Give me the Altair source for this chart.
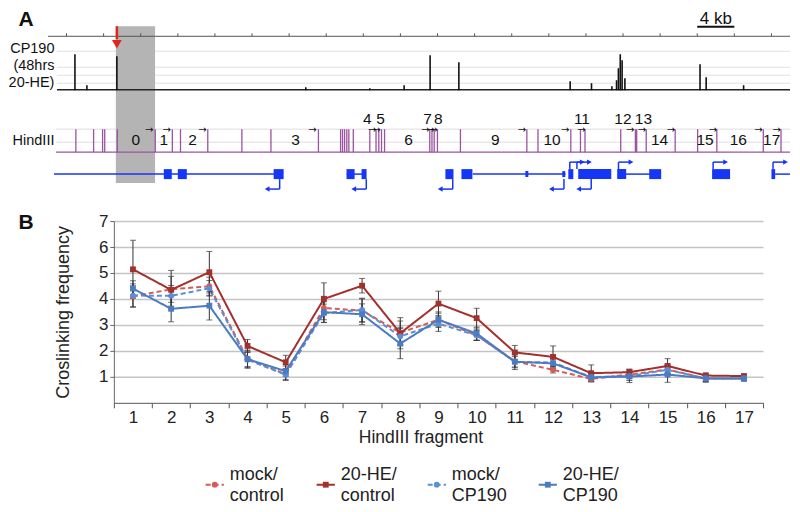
import altair as alt
import pandas as pd

FONT = "Liberation Sans"

# ---------------- Panel A data (genomic positions in kb) ----------------
ruler_ticks_kb = [2, 6, 10, 14, 18, 22, 26, 30, 34, 38, 42, 46, 50, 54, 58, 62, 66, 70, 74, 78]
ruler_span_kb = [0, 80]
scale_bar_kb = [70, 74]
scale_bar_label = ["4 kb"]
shade_kb = [7.32, 11.55]
red_arrow_kb = [7.43]

peak_kb = [2.91, 4.2, 7.43, 27.8, 34.7, 38.4, 41.2, 44.3, 56.3, 58.6, 60.8, 61.3, 61.5, 61.7, 61.9, 62.2, 70.3, 70.96, 75.0]
peak_signal = [36, 5, 34, 3, 2, 5, 35, 28, 9, 7, 4, 10, 22, 36, 30, 12, 26, 13, 5]
track_guides = [7, 15, 23, 39]

cut_kb = [3.01, 4.92, 5.89, 6.12, 7.48, 11.57, 13.41, 14.29, 17.23, 20.91, 24.04, 29.16,
          31.55, 31.76, 31.98, 32.22, 32.44, 32.92, 34.70, 35.37, 35.67, 35.96, 36.29,
          41.16, 41.40, 41.64, 41.99, 44.47, 51.63, 52.83, 56.37, 57.41, 57.90, 61.75,
          63.33, 63.47, 64.50, 67.62, 70.04, 72.11, 77.12, 79.03]
frag_label = ["0", "1", "2", "3", "4", "5", "6", "7", "8", "9", "10", "11", "12", "13", "14", "15", "16", "17"]
frag_label_kb = [9.48, 12.49, 15.58, 26.70, 34.42, 35.85, 38.87, 40.92, 42.07, 48.24, 54.34,
                 57.57, 61.99, 64.20, 65.93, 70.85, 74.43, 78.03]
frag_label_row = ["low", "low", "low", "low", "high", "high", "low", "high", "high", "low", "low",
                  "high", "high", "high", "low", "low", "low", "low"]
primer_kb = [10.91, 12.81, 16.66, 28.50, 34.96, 35.42, 40.70, 41.24, 41.56, 51.11, 55.77,
             57.50, 62.78, 64.03, 67.15, 71.68, 76.59, 78.57]

intron_start = [0.65, 32.2, 45.8, 62.3, 78.4]
intron_end = [25.2, 34.3, 55.8, 64.9, 80.0]
exon_start = [12.49, 14.0, 24.33, 32.19, 33.81, 42.85, 44.58, 56.1, 57.17, 61.37, 64.82, 71.6, 78.0]
exon_end = [13.35, 14.97, 25.41, 33.06, 34.35, 43.72, 45.76, 56.64, 60.73, 62.34, 66.11, 73.54, 78.4]
small_exon_start = [51.47, 55.45]
small_exon_end = [51.79, 55.77]
tss_fwd_kb = [56.26, 57.03, 61.51, 71.71, 78.17]
tss_rev_kb = [24.98, 34.32, 43.64, 55.63, 58.57]

# ---------------- Panel B data ----------------
fragments = [1, 2, 3, 4, 5, 6, 7, 8, 9, 10, 11, 12, 13, 14, 15, 16, 17]
series = ["mock/control", "20-HE/control", "mock/CP190", "20-HE/CP190"]
legend_text = ["mock/\ncontrol", "20-HE/\ncontrol", "mock/\nCP190", "20-HE/\nCP190"]
y_ticks = [1, 2, 3, 4, 5, 6, 7]
mock_control = [4.10, 4.37, 4.49, 1.70, 1.10, 3.65, 3.55, 2.70, 3.20, 2.60, 1.60, 1.27, 0.92, 1.09, 1.28, 0.94, 0.94]
he_control = [5.14, 4.35, 5.03, 2.19, 1.56, 4.00, 4.51, 2.68, 3.82, 3.26, 1.94, 1.77, 1.14, 1.18, 1.42, 1.05, 1.03]
mock_cp190 = [4.13, 4.12, 4.41, 1.66, 1.08, 3.45, 3.58, 2.56, 3.05, 2.60, 1.58, 1.55, 0.99, 1.03, 1.27, 0.94, 0.94]
he_cp190 = [4.40, 3.62, 3.74, 1.68, 1.22, 3.49, 3.41, 2.28, 3.20, 2.67, 1.58, 1.52, 0.98, 1.01, 1.09, 0.94, 0.94]
mock_control_err = [0.40, 0.50, 0.35, 0.30, 0.20, 0.45, 0.45, 0.45, 0.25, 0.20, 0.25, 0.12, 0.12, 0.15, 0.15, 0.12, 0.08]
he_control_err = [1.12, 0.75, 0.80, 0.25, 0.27, 0.62, 0.28, 0.60, 0.48, 0.38, 0.27, 0.42, 0.32, 0.12, 0.28, 0.10, 0.08]
mock_cp190_err = [0.45, 0.40, 0.30, 0.30, 0.22, 0.35, 0.45, 0.35, 0.30, 0.20, 0.20, 0.15, 0.12, 0.25, 0.20, 0.12, 0.10]
he_cp190_err = [0.30, 0.50, 0.55, 0.35, 0.20, 0.40, 0.40, 0.58, 0.30, 0.25, 0.30, 0.20, 0.15, 0.15, 0.30, 0.15, 0.10]

colors = ["#d65a56", "#a2302d", "#5b8ed6", "#4a7cc4"]
dashes = [[5, 3], [1, 0], [5, 3], [1, 0]]
shapes = ["circle", "square", "circle", "square"]

PURPLE = "#9c52a0"
BLUE = "#1636f5"
one = pd.DataFrame({"a": [0]})

# ======================= Panel A =======================
# panel A's plot origin is aligned with panel B's; the genome track extends to its left
xs = alt.Scale(domain=[0, 80], range=[-66, 677], nice=False, zero=False)
sig = alt.Scale(domain=[0, 40], range=[59, 19], nice=False, zero=False)


def X(field):
    return alt.X(f"{field}:Q", scale=xs, axis=None, title=None)


shade = alt.Chart(pd.DataFrame({"s": [shade_kb[0]], "e": [shade_kb[1]]})).mark_rect(color="#b4b4b4").encode(
    x=X("s"), x2=alt.X2("e"), y=alt.value(-5), y2=alt.value(152))

ruler_line = alt.Chart(pd.DataFrame({"s": [ruler_span_kb[0]], "e": [ruler_span_kb[1]]})).mark_rule(
    color="#555", strokeWidth=1).encode(x=X("s"), x2=alt.X2("e"), y=alt.value(5))
ruler_ticks = alt.Chart(pd.DataFrame({"kb": ruler_ticks_kb})).mark_rule(color="#555", strokeWidth=1).encode(
    x=X("kb"), y=alt.value(2), y2=alt.value(5))

guides = alt.Chart(pd.DataFrame({"level": track_guides})).mark_rule(color="#e0e0e0", strokeWidth=1).encode(
    x=alt.value(-57), x2=alt.value(677), y=alt.Y("level:Q", scale=sig, axis=None))

baseline = alt.Chart(one).mark_rule(color="#222", strokeWidth=1.4).encode(
    x=alt.value(-57), x2=alt.value(677), y=alt.value(58.5))

peaks = alt.Chart(pd.DataFrame({"kb": peak_kb, "signal": peak_signal})).mark_rule(
    color="#111", strokeWidth=1.6).encode(
    x=X("kb"), y=alt.Y("signal:Q", scale=sig, axis=None), y2=alt.datum(0))

red_df = pd.DataFrame({"kb": red_arrow_kb})
red_line = alt.Chart(red_df).mark_rule(color="#e3261b", strokeWidth=2.5).encode(
    x=X("kb"), y=alt.value(-5), y2=alt.value(8))
red_head = alt.Chart(red_df).mark_point(shape="triangle-down", filled=True, size=95, color="#e3261b",
                                        opacity=1).encode(x=X("kb"), y=alt.value(13))

bar = alt.Chart(pd.DataFrame({"s": [scale_bar_kb[0]], "e": [scale_bar_kb[1]]})).mark_rule(
    color="#111", strokeWidth=2).encode(x=X("s"), x2=alt.X2("e"), y=alt.value(-4.5))
bar_txt = alt.Chart(pd.DataFrame({"t": scale_bar_label, "m": [sum(scale_bar_kb) / 2]})).mark_text(
    fontSize=17, color="#111", baseline="middle").encode(x=X("m"), y=alt.value(-12.5), text="t:N")

a_letter = alt.Chart(pd.DataFrame({"t": ["A"]})).mark_text(
    fontSize=21, fontWeight="bold", color="#111", baseline="middle").encode(
    x=alt.value(-88), y=alt.value(-11), text="t:N")
cp_lab = alt.Chart(pd.DataFrame({"t": ["CP190\n(48hrs\n20-HE)"]})).mark_text(
    fontSize=14.5, align="right", baseline="middle", lineBreak="\n", lineHeight=17, color="#111").encode(
    x=alt.value(-59.5), y=alt.value(18), text="t:N")
hind_lab = alt.Chart(pd.DataFrame({"t": ["HindIII"]})).mark_text(
    fontSize=14.5, align="right", baseline="middle", color="#111").encode(
    x=alt.value(-59.5), y=alt.value(109.5), text="t:N")

hg1 = alt.Chart(one).mark_rule(color="#dddddd", strokeWidth=1).encode(x=alt.value(-58), x2=alt.value(677), y=alt.value(98))
hg2 = alt.Chart(one).mark_rule(color="#dddddd", strokeWidth=1).encode(x=alt.value(-58), x2=alt.value(677), y=alt.value(111))
hbase = alt.Chart(one).mark_rule(color=PURPLE, strokeWidth=1.4).encode(x=alt.value(-58), x2=alt.value(677), y=alt.value(121))
cuts = alt.Chart(pd.DataFrame({"kb": cut_kb})).mark_rule(color=PURPLE, strokeWidth=1.3).encode(
    x=X("kb"), y=alt.value(98), y2=alt.value(121))

fl_df = pd.DataFrame({"lab": frag_label, "kb": frag_label_kb, "row": frag_label_row})
fl_low = alt.Chart(fl_df).transform_filter("datum.row == 'low'").mark_text(
    fontSize=15.5, color="#111", baseline="middle").encode(x=X("kb"), y=alt.value(109), text="lab:N")
fl_high = alt.Chart(fl_df).transform_filter("datum.row == 'high'").mark_text(
    fontSize=15.5, color="#111", baseline="middle").encode(x=X("kb"), y=alt.value(87.5), text="lab:N")
primers = alt.Chart(pd.DataFrame({"kb": primer_kb, "t": ["→"] * len(primer_kb)})).mark_text(
    fontSize=10, color="#111", baseline="middle", font="DejaVu Sans").encode(
    x=X("kb"), y=alt.value(99), text="t:N")

introns = alt.Chart(pd.DataFrame({"s": intron_start, "e": intron_end})).mark_rule(
    color=BLUE, strokeWidth=1.5).encode(x=X("s"), x2=alt.X2("e"), y=alt.value(143))
exons = alt.Chart(pd.DataFrame({"s": exon_start, "e": exon_end})).mark_rect(color=BLUE).encode(
    x=X("s"), x2=alt.X2("e"), y=alt.value(138), y2=alt.value(148))
sexons = alt.Chart(pd.DataFrame({"s": small_exon_start, "e": small_exon_end})).mark_rect(color=BLUE).encode(
    x=X("s"), x2=alt.X2("e"), y=alt.value(140), y2=alt.value(146))

fwd = alt.Chart(pd.DataFrame({"kb": tss_fwd_kb})).transform_calculate(end="datum.kb + 1.35")
fwd_v = fwd.mark_rule(color=BLUE, strokeWidth=1.5).encode(x=X("kb"), y=alt.value(138), y2=alt.value(131))
fwd_h = fwd.mark_rule(color=BLUE, strokeWidth=1.5).encode(x=X("kb"), x2=alt.X2("end"), y=alt.value(131))
fwd_t = fwd.mark_point(shape="triangle-right", filled=True, size=30, color=BLUE, opacity=1).encode(
    x=X("end"), y=alt.value(131))
rev = alt.Chart(pd.DataFrame({"kb": tss_rev_kb})).transform_calculate(end="datum.kb - 1.35")
rev_v = rev.mark_rule(color=BLUE, strokeWidth=1.5).encode(x=X("kb"), y=alt.value(148), y2=alt.value(158))
rev_h = rev.mark_rule(color=BLUE, strokeWidth=1.5).encode(x=X("end"), x2=alt.X2("kb"), y=alt.value(158))
rev_t = rev.mark_point(shape="triangle-left", filled=True, size=30, color=BLUE, opacity=1).encode(
    x=X("end"), y=alt.value(158))

bound_a = alt.Chart(one).mark_rule(color="white", strokeWidth=1).encode(
    x=alt.value(-105), y=alt.value(-20), y2=alt.value(170))

panel_a = alt.layer(
    bound_a, guides, hg1, hg2, shade, ruler_line, ruler_ticks, baseline, peaks, red_line, red_head,
    bar, bar_txt, a_letter, cp_lab, hind_lab, hbase, cuts, fl_low, fl_high, primers, introns, exons,
    sexons, fwd_v, fwd_h, fwd_t, rev_v, rev_h, rev_t
).properties(width=677, height=170)

# ======================= Panel B =======================
rows = []
for s, vals, errs in zip(series, [mock_control, he_control, mock_cp190, he_cp190],
                         [mock_control_err, he_control_err, mock_cp190_err, he_cp190_err]):
    for f, v, e in zip(fragments, vals, errs):
        rows.append({"frag": f, "series": s, "value": v, "err": e})
df = pd.DataFrame(rows)

xaxis = alt.Axis(title="HindIII fragment", labelAngle=0, tickBand="extent", tickSize=5, labelFontSize=17,
                 labelColor="#222", labelPadding=2, titleFontSize=17.5, titleFontWeight="normal",
                 titleColor="#222", titleX=307, titlePadding=3, domainColor="#555", tickColor="#555",
                 grid=False, labelOverlap=False)
yaxis = alt.Axis(values=y_ticks, title="Croslinking frequency", titleFontSize=18,
                 titleFontWeight="normal", titleColor="#222", titlePadding=26, labelFontSize=17,
                 labelColor="#222", labelPadding=2, tickSize=4, tickColor="#666", domainColor="#666",
                 gridColor="#c4c4c4", gridWidth=1.5, labelOverlap=False, labelFlush=False,
                 labelBound=False, format="d")
ys = alt.Scale(domain=[0, 7], nice=False, zero=True)
xb = alt.X("frag:O", scale=alt.Scale(type="band", paddingInner=0, paddingOuter=0), axis=xaxis)


def Y(field):
    return alt.Y(f"{field}:Q", scale=ys, axis=yaxis)


color = alt.Color("series:N", scale=alt.Scale(domain=series, range=colors), legend=None)
dash = alt.StrokeDash("series:N", scale=alt.Scale(domain=series, range=dashes), legend=None)
shape = alt.Shape("series:N", scale=alt.Scale(domain=series, range=shapes), legend=None)

base = alt.Chart(df)
lines = base.mark_line(strokeWidth=2).encode(x=xb, y=Y("value"), color=color, strokeDash=dash,
                                             detail="series:N")
errs = base.transform_calculate(lo="datum.value - datum.err", hi="datum.value + datum.err")
err_rule = errs.mark_rule(color="#333", strokeWidth=1).encode(x=xb, y=Y("lo"), y2=alt.Y2("hi"))
cap_lo = errs.mark_tick(color="#333", thickness=1, size=6).encode(x=xb, y=Y("lo"))
cap_hi = errs.mark_tick(color="#333", thickness=1, size=6).encode(x=xb, y=Y("hi"))
pts = base.mark_point(filled=True, size=34, opacity=1).encode(x=xb, y=Y("value"), color=color, shape=shape)
main = alt.layer(lines, err_rule, cap_lo, cap_hi, pts)

leg_df = pd.DataFrame({"series": series, "label": legend_text, "idx": [0, 1, 2, 3]})
legx = alt.Scale(domain=[0, 3], range=[101, 434.5], nice=False, zero=False)
leg = alt.Chart(leg_df).transform_calculate(l="datum.idx - 0.082", r="datum.idx + 0.082")
leg_line = leg.mark_rule(strokeWidth=2).encode(
    x=alt.X("l:Q", scale=legx, axis=None), x2=alt.X2("r"), y=alt.value(264), color=color, strokeDash=dash)
leg_pt = leg.mark_point(filled=True, size=34, opacity=1).encode(
    x=alt.X("idx:Q", scale=legx, axis=None), y=alt.value(264), color=color, shape=shape)
leg_txt = leg.mark_text(align="left", baseline="middle", lineBreak="\n", fontSize=18, lineHeight=21,
                        dx=15, color="#222").encode(
    x=alt.X("idx:Q", scale=legx, axis=None), y=alt.value(254), text="label:N")
legend = alt.layer(leg_line, leg_pt, leg_txt)

b_letter = alt.Chart(pd.DataFrame({"t": ["B"]})).mark_text(
    fontSize=21, fontWeight="bold", color="#111", baseline="middle").encode(
    x=alt.value(-88), y=alt.value(2), text="t:N")
bound_b = alt.Chart(one).mark_rule(color="white", strokeWidth=1).encode(
    x=alt.value(-105), y=alt.value(-18), y2=alt.value(0))

panel_b = alt.layer(bound_b, main, legend, b_letter).resolve_scale(x="independent").properties(
    width=650, height=182)

chart = alt.vconcat(panel_a, panel_b, spacing=0, padding=0).configure(font=FONT).configure_view(
    stroke="transparent")

chart.save("out.html", embed_options={"renderer": "svg", "actions": False})
